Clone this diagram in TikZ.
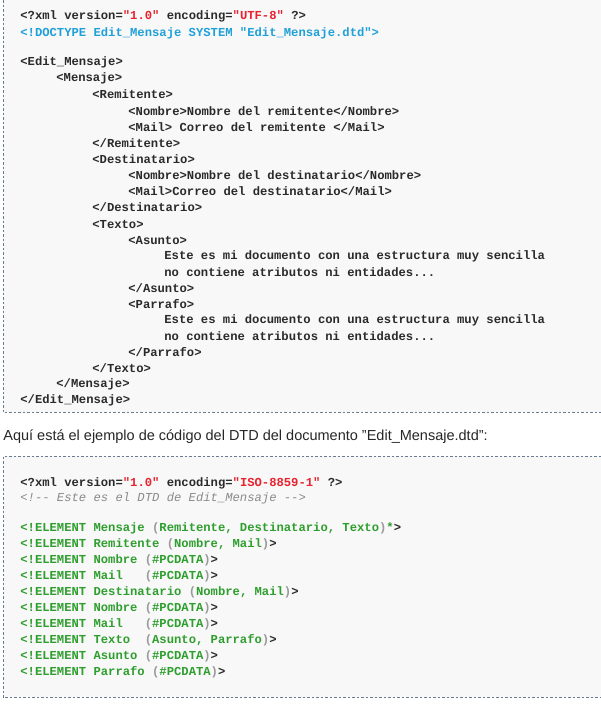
\documentclass[tikz,border=0pt]{standalone}
\usepackage{fontspec}
\setmainfont{Liberation Sans}
\setmonofont{Liberation Mono}
\definecolor{codebg}{HTML}{F8F8F8}
\definecolor{tagcol}{HTML}{2A2A2A}
\definecolor{valcol}{HTML}{E8222E}
\definecolor{doccol}{HTML}{1FA0D8}
\definecolor{cmtcol}{HTML}{8A8A8A}
\definecolor{elcol}{HTML}{2E9E2E}
\definecolor{parcol}{HTML}{9A9A9A}
\definecolor{framecol}{HTML}{6A7A90}
\newcommand{\val}[1]{\textcolor{valcol}{#1}}
\newcommand{\prn}[1]{\textcolor{parcol}{(}#1\textcolor{parcol}{)}}
\newcommand{\gt}{\textcolor{tagcol}{>}}
\tikzset{every picture/.style={line width=0.75pt}}
\begin{document}
\begin{tikzpicture}[x=1pt,y=1pt,yscale=-1,xscale=1,
  code/.style={anchor=west,inner sep=0pt,font=\ttfamily\bfseries\fontsize{12.2}{12}\selectfont,text=tagcol},
  dtd/.style={code,text=elcol},
  boxframe/.style={draw=framecol,dash pattern=on 2.5pt off 2pt,line width=0.6pt}]
\useasboundingbox (0,0) rectangle (601,705);
% first listing
\fill[codebg] (3,0) rectangle (601,412);
\draw[boxframe] (3,0) -- (3,412) -- (601,412);
\node[code] (x1) at (20,16) {<?xml version=\val{"1.0"} encoding=\val{"UTF-8"} ?>};
\node[code,text=doccol] (x2) at (20,33) {<!DOCTYPE Edit\_Mensaje SYSTEM "Edit\_Mensaje.dtd">};
\node[code] (x3) at (20,62) {<Edit\_Mensaje>};
\node[code] (x4) at (56,78) {<Mensaje>};
\node[code] (x5) at (92,94) {<Remitente>};
\node[code] (x6) at (128,111) {<Nombre>Nombre del remitente</Nombre>};
\node[code] (x7) at (128,127) {<Mail> Correo del remitente </Mail>};
\node[code] (x8) at (92,143) {</Remitente>};
\node[code] (x9) at (92,159) {<Destinatario>};
\node[code] (x10) at (128,175) {<Nombre>Nombre del destinatario</Nombre>};
\node[code] (x11) at (128,191) {<Mail>Correo del destinatario</Mail>};
\node[code] (x12) at (92,207) {</Destinatario>};
\node[code] (x13) at (92,224) {<Texto>};
\node[code] (x14) at (128,240) {<Asunto>};
\node[code] (x15) at (164,256) {Este es mi documento con una estructura muy sencilla};
\node[code] (x16) at (164,272) {no contiene atributos ni entidades...};
\node[code] (x17) at (128,288) {</Asunto>};
\node[code] (x18) at (128,304) {<Parrafo>};
\node[code] (x19) at (164,320) {Este es mi documento con una estructura muy sencilla};
\node[code] (x20) at (164,336) {no contiene atributos ni entidades...};
\node[code] (x21) at (128,352) {</Parrafo>};
\node[code] (x22) at (92,368) {</Texto>};
\node[code] (x23) at (56,384) {</Mensaje>};
\node[code] (x24) at (20,400) {</Edit\_Mensaje>};
% caption
\node[anchor=west,inner sep=0pt,font=\fontsize{14.5}{16}\selectfont,text=black!85] (cap) at (3,437)
  {Aquí está el ejemplo de código del DTD del documento \symbol{34}Edit\_Mensaje.dtd\symbol{34}:};
% second listing
\fill[codebg] (3,456) rectangle (601,697);
\draw[boxframe] (601,456) -- (3,456) -- (3,697) -- (601,697);
\node[code] (d1) at (20,483) {<?xml version=\val{"1.0"} encoding=\val{"ISO-8859-1"} ?>};
\node[code,font=\ttfamily\itshape\fontsize{12.2}{12}\selectfont,text=cmtcol] (d2) at (20,498) {<!-- Este es el DTD de Edit\_Mensaje -->};
\node[dtd] (d3) at (20,528) {<!ELEMENT Mensaje \prn{Remitente, Destinatario, Texto}*\gt};
\node[dtd] (d4) at (20,544) {<!ELEMENT Remitente \prn{Nombre, Mail}\gt};
\node[dtd] (d5) at (20,560) {<!ELEMENT Nombre \prn{\#PCDATA}\gt};
\node[dtd] (d6) at (20,576) {<!ELEMENT Mail~~~\prn{\#PCDATA}\gt};
\node[dtd] (d7) at (20,592) {<!ELEMENT Destinatario \prn{Nombre, Mail}\gt};
\node[dtd] (d8) at (20,608) {<!ELEMENT Nombre \prn{\#PCDATA}\gt};
\node[dtd] (d9) at (20,624) {<!ELEMENT Mail~~~\prn{\#PCDATA}\gt};
\node[dtd] (d10) at (20,640) {<!ELEMENT Texto~~\prn{Asunto, Parrafo}\gt};
\node[dtd] (d11) at (20,656) {<!ELEMENT Asunto \prn{\#PCDATA}\gt};
\node[dtd] (d12) at (20,672) {<!ELEMENT Parrafo \prn{\#PCDATA}\gt};
\end{tikzpicture}
\end{document}
